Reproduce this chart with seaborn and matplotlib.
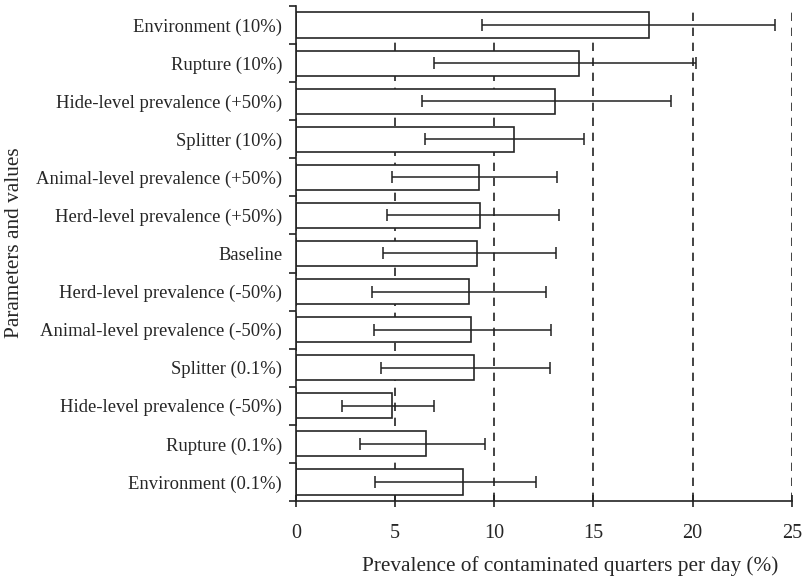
import numpy as np
import seaborn as sns
import matplotlib.pyplot as plt
from matplotlib.ticker import FixedLocator

labels = ['Environment (10%)', 'Rupture (10%)', 'Hide-level prevalence (+50%)',
          'Splitter (10%)', 'Animal-level prevalence (+50%)', 'Herd-level prevalence (+50%)',
          'Baseline', 'Herd-level prevalence (-50%)', 'Animal-level prevalence (-50%)',
          'Splitter (0.1%)', 'Hide-level prevalence (-50%)', 'Rupture (0.1%)',
          'Environment (0.1%)']
prevalence = [17.8, 14.25, 13.05, 11.0, 9.23, 9.26, 9.14, 8.71, 8.85, 8.96, 4.83, 6.57, 8.42]
lower = [9.4, 6.95, 6.34, 6.5, 4.83, 4.58, 4.40, 3.85, 3.92, 4.28, 2.31, 3.21, 3.97]
upper = [24.15, 20.15, 18.9, 14.55, 13.17, 13.26, 13.10, 12.60, 12.88, 12.83, 6.94, 9.51, 12.11]

sns.set_style('white')
plt.rcParams['font.family'] = ['Liberation Serif', 'DejaVu Serif']

fig = plt.figure(figsize=(8.12, 5.81), dpi=100)
ax = fig.add_axes([0.3645, 0.1377, 0.6105, 0.852])

sns.barplot(x=prevalence, y=labels, orient='h', color='white', edgecolor='#262626',
            linewidth=1.2, width=0.66, saturation=1, ax=ax, zorder=2)

ypos = np.arange(len(labels))
vals = np.array(prevalence)
xerr = [vals - np.array(lower), np.array(upper) - vals]
ax.errorbar(vals, ypos, xerr=xerr, fmt='none', ecolor='#222222', elinewidth=1.1,
            capsize=4, capthick=1.1, zorder=3)

ax.set_xlim(0, 25)
ax.set_ylim(len(labels) - 0.5, -0.5)
ax.set_xticks([0, 5, 10, 15, 20, 25])
ax.xaxis.grid(True, linestyle=(0, (5, 4)), color='#222222', linewidth=1.2)
ax.set_axisbelow(True)

ax.yaxis.set_minor_locator(FixedLocator(np.arange(-0.5, len(labels), 1.0)))
ax.tick_params(axis='y', which='major', length=0, pad=10, labelsize=13.4)
ax.tick_params(axis='y', which='minor', left=True, length=5, width=1.2, color='#222222')
ax.tick_params(axis='x', bottom=True, direction='inout', length=9, width=1.2,
               color='#222222', pad=12, labelsize=14.5)

for s in ['top', 'right']:
    ax.spines[s].set_visible(False)
for s in ['left', 'bottom']:
    ax.spines[s].set_color('#222222')
    ax.spines[s].set_linewidth(1.2)

ax.set_xlabel('Prevalence of contaminated quarters per day (%)', fontsize=15.3)
ax.xaxis.set_label_coords(0.554, -0.112)
ax.set_ylabel('Parameters and values', fontsize=15.3)
ax.yaxis.set_label_coords(-0.548, 0.521)

fig.savefig('out.png', dpi=100)
